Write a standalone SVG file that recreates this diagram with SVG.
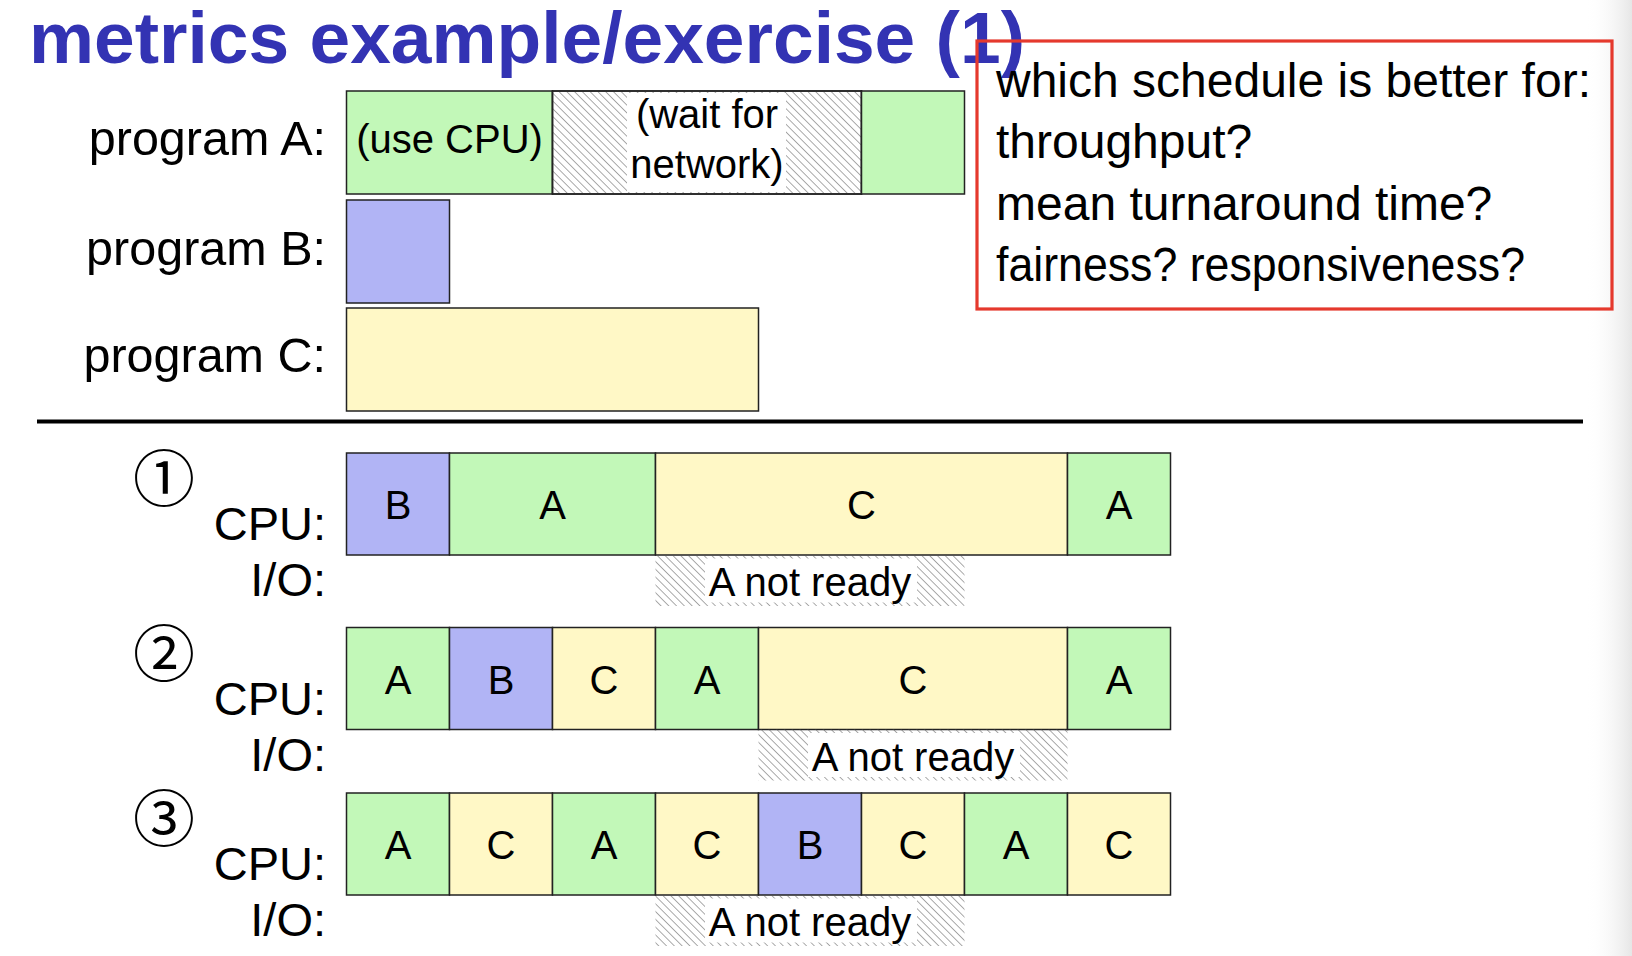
<svg xmlns="http://www.w3.org/2000/svg" width="1632" height="956" viewBox="0 0 1632 956">
<defs>
<pattern id="hatch" patternUnits="userSpaceOnUse" width="5.5" height="5.5" patternTransform="rotate(-45)">
<line x1="0" y1="0" x2="0" y2="5.5" stroke="#555" stroke-width="1"/>
</pattern>
<linearGradient id="edgeR" x1="0" y1="0" x2="1" y2="0">
<stop offset="0" stop-color="#ffffff" stop-opacity="0"/>
<stop offset="1" stop-color="#e6e6e6"/>
</linearGradient>
<style>
.t{font-family:"Liberation Sans",Arial,sans-serif;fill:#000}
.lbl{font-size:48.5px;text-anchor:end}
.lbs{font-size:47px;text-anchor:end}
.nd{font-size:40px;text-anchor:middle}
.q{font-size:48px}
.cell{stroke:#222;stroke-width:1.5}
.g{fill:#c2f8b8}
.b{fill:#b1b4f5}
.y{fill:#fff8c6}
.h{fill:url(#hatch)}
.wbg{fill:#fff}
.circ{font-family:"Noto Sans CJK JP","DejaVu Sans",sans-serif;font-size:62px;text-anchor:middle;fill:#000}
</style>
</defs>
<rect width="1632" height="956" fill="#fff"/>
<rect x="1585" y="0" width="47" height="956" fill="url(#edgeR)"/>

<g id="title">
<text x="29" y="63" font-family="Liberation Sans,Arial,sans-serif" font-weight="bold" font-size="72" fill="#3333b3" textLength="996" lengthAdjust="spacingAndGlyphs">metrics example/exercise (1)</text>
</g>

<g id="programA">
<text class="t lbl" x="326" y="155">program A:</text>
<rect class="cell g" x="346.5" y="91" width="206" height="103"/>
<rect class="cell wbg" x="552.5" y="91" width="309" height="103"/>
<rect class="cell h" x="552.5" y="91" width="309" height="103"/>
<rect class="wbg" x="627" y="93" width="159" height="99"/>
<rect class="cell g" x="861.5" y="91" width="103" height="103"/>
<text class="t nd" x="449.5" y="153">(use CPU)</text>
<text class="t nd" x="707" y="128">(wait for</text>
<text class="t nd" x="707" y="178">network)</text>
</g>

<g id="programB">
<text class="t lbl" x="326" y="265">program B:</text>
<rect class="cell b" x="346.5" y="200" width="103" height="103"/>
</g>

<g id="programC">
<text class="t lbl" x="326" y="372">program C:</text>
<rect class="cell y" x="346.5" y="308" width="412" height="103"/>
</g>

<g id="question">
<rect x="977" y="41" width="635" height="268" fill="none" stroke="#e5392d" stroke-width="3.2"/>
<text class="t q" x="996" y="97">which schedule is better for:</text>
<text class="t q" x="996" y="158">throughput?</text>
<text class="t q" x="996" y="220">mean turnaround time?</text>
<text class="t q" x="996" y="281" textLength="529" lengthAdjust="spacingAndGlyphs">fairness? responsiveness?</text>
</g>

<g id="connectors">
<line x1="37" y1="421.5" x2="1583" y2="421.5" stroke="#000" stroke-width="4"/>
</g>

<g id="schedule1">
<text class="circ" x="164" y="502">①</text>
<text class="t lbs" x="326" y="540">CPU:</text>
<text class="t lbs" x="326" y="596">I/O:</text>
<rect class="cell b" x="346.5" y="453" width="103" height="102"/>
<rect class="cell g" x="449.5" y="453" width="206" height="102"/>
<rect class="cell y" x="655.5" y="453" width="412" height="102"/>
<rect class="cell g" x="1067.5" y="453" width="103" height="102"/>
<text class="t nd" x="398" y="519">B</text>
<text class="t nd" x="552.5" y="519">A</text>
<text class="t nd" x="861.5" y="519">C</text>
<text class="t nd" x="1119" y="519">A</text>
<rect class="h" x="655.5" y="555" width="309" height="51"/>
<rect class="wbg" x="705" y="558.5" width="212" height="44"/>
<text class="t nd" x="810" y="596">A not ready</text>
</g>

<g id="schedule2">
<text class="circ" x="164" y="677">②</text>
<text class="t lbs" x="326" y="715">CPU:</text>
<text class="t lbs" x="326" y="771">I/O:</text>
<rect class="cell g" x="346.5" y="627.5" width="103" height="102"/>
<rect class="cell b" x="449.5" y="627.5" width="103" height="102"/>
<rect class="cell y" x="552.5" y="627.5" width="103" height="102"/>
<rect class="cell g" x="655.5" y="627.5" width="103" height="102"/>
<rect class="cell y" x="758.5" y="627.5" width="309" height="102"/>
<rect class="cell g" x="1067.5" y="627.5" width="103" height="102"/>
<text class="t nd" x="398" y="693.5">A</text>
<text class="t nd" x="501" y="693.5">B</text>
<text class="t nd" x="604" y="693.5">C</text>
<text class="t nd" x="707" y="693.5">A</text>
<text class="t nd" x="913" y="693.5">C</text>
<text class="t nd" x="1119" y="693.5">A</text>
<rect class="h" x="758.5" y="729.5" width="309" height="51"/>
<rect class="wbg" x="808" y="733" width="212" height="44"/>
<text class="t nd" x="913" y="770.5">A not ready</text>
</g>

<g id="schedule3">
<text class="circ" x="164" y="842">③</text>
<text class="t lbs" x="326" y="880">CPU:</text>
<text class="t lbs" x="326" y="936">I/O:</text>
<rect class="cell g" x="346.5" y="793" width="103" height="102"/>
<rect class="cell y" x="449.5" y="793" width="103" height="102"/>
<rect class="cell g" x="552.5" y="793" width="103" height="102"/>
<rect class="cell y" x="655.5" y="793" width="103" height="102"/>
<rect class="cell b" x="758.5" y="793" width="103" height="102"/>
<rect class="cell y" x="861.5" y="793" width="103" height="102"/>
<rect class="cell g" x="964.5" y="793" width="103" height="102"/>
<rect class="cell y" x="1067.5" y="793" width="103" height="102"/>
<text class="t nd" x="398" y="859">A</text>
<text class="t nd" x="501" y="859">C</text>
<text class="t nd" x="604" y="859">A</text>
<text class="t nd" x="707" y="859">C</text>
<text class="t nd" x="810" y="859">B</text>
<text class="t nd" x="913" y="859">C</text>
<text class="t nd" x="1016" y="859">A</text>
<text class="t nd" x="1119" y="859">C</text>
<rect class="h" x="655.5" y="895" width="309" height="51"/>
<rect class="wbg" x="705" y="898.5" width="212" height="44"/>
<text class="t nd" x="810" y="936">A not ready</text>
</g>
</svg>
